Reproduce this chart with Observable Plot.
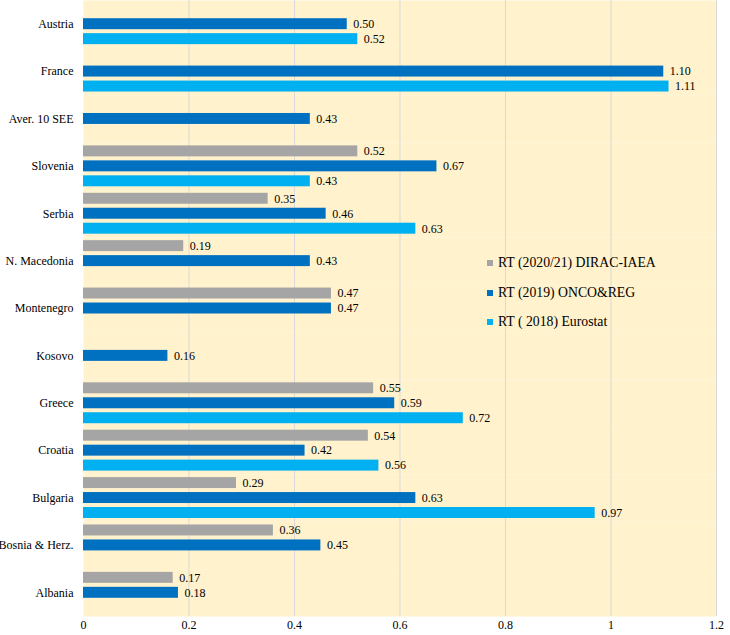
<!DOCTYPE html>
<html>
<head>
<meta charset="utf-8">
<script src="https://cdn.jsdelivr.net/npm/d3@7"></script>
<script src="https://cdn.jsdelivr.net/npm/@observablehq/plot@0.6"></script>
<style>
  body { margin: 0; background: white; }
  #wrap { position: relative; width: 730px; height: 635px; }
  #legend { position: absolute; left: 487px; top: 253px; font-family: 'Liberation Serif', 'Times New Roman', serif; font-size: 13.75px; color: #000; }
  .row { display: flex; align-items: center; height: 20px; margin-bottom: 9.5px; white-space: nowrap; }
  .sw { width: 6px; height: 6px; margin-right: 5px; }
</style>
</head>
<body>
<div id="wrap"></div>
<script>
const countries = ["Austria","France","Aver. 10 SEE","Slovenia","Serbia","N. Macedonia","Montenegro","Kosovo","Greece","Croatia","Bulgaria","Bosnia & Herz.","Albania"];
const seriesNames = ["RT (2020/21) DIRAC-IAEA","RT (2019) ONCO&REG","RT ( 2018) Eurostat"];
const dirac    = [null, null, null, 0.52, 0.35, 0.19, 0.47, null, 0.55, 0.54, 0.29, 0.36, 0.17];
const onco     = [0.50, 1.10, 0.43, 0.67, 0.46, 0.43, 0.47, 0.16, 0.59, 0.42, 0.63, 0.45, 0.18];
const eurostat = [0.52, 1.11, null, 0.43, 0.63, null, null, null, 0.72, 0.56, 0.97, null, null];
const seriesColors = ["#A5A5A5", "#0070C0", "#00B0F0"];
const xTicks = [0, 0.2, 0.4, 0.6, 0.8, 1, 1.2];
const gridTicks = [0.2, 0.4, 0.6, 0.8, 1, 1.2];

const seriesValues = [dirac, onco, eurostat];
const rows = [];
countries.forEach((c, i) => {
  seriesNames.forEach((s, j) => {
    const v = seriesValues[j][i];
    if (v != null) rows.push({country: c, series: s, value: v});
  });
});

const chart = Plot.plot({
  width: 730,
  height: 635,
  marginLeft: 83,
  marginRight: 14,
  marginTop: 0,
  marginBottom: 19,
  style: {fontFamily: "'Liberation Serif', 'Times New Roman', serif", fontSize: "12px", color: "#000", background: "white"},
  x: {domain: [0, 1.2], ticks: xTicks, tickFormat: d => String(d), tickSize: 0, tickPadding: 4, label: null},
  y: {domain: seriesNames, axis: null, paddingInner: 0.267, paddingOuter: 0.217, round: false},
  fy: {domain: countries, padding: 0, round: false, axis: "left", tickSize: 0, tickPadding: 10, label: null},
  color: {domain: seriesNames, range: seriesColors},
  marks: [
    Plot.frame({fill: "#FFF2CC", stroke: null}),
    Plot.ruleX(gridTicks, {stroke: "#D9D9D9", strokeWidth: 1}),
    Plot.barX(rows, {x: "value", y: "series", fy: "country", fill: "series"}),
    Plot.text(rows, {x: "value", y: "series", fy: "country", text: d => d.value.toFixed(2), textAnchor: "start", dx: 6, fill: "#000", fontSize: 12})
  ]
});
document.getElementById("wrap").appendChild(chart);

const legend = document.createElement("div");
legend.id = "legend";
seriesNames.forEach((s, j) => {
  const row = document.createElement("div");
  row.className = "row";
  const sw = document.createElement("span");
  sw.className = "sw";
  sw.style.background = seriesColors[j];
  const t = document.createElement("span");
  t.textContent = s;
  row.appendChild(sw);
  row.appendChild(t);
  legend.appendChild(row);
});
document.getElementById("wrap").appendChild(legend);
</script>
</body>
</html>
